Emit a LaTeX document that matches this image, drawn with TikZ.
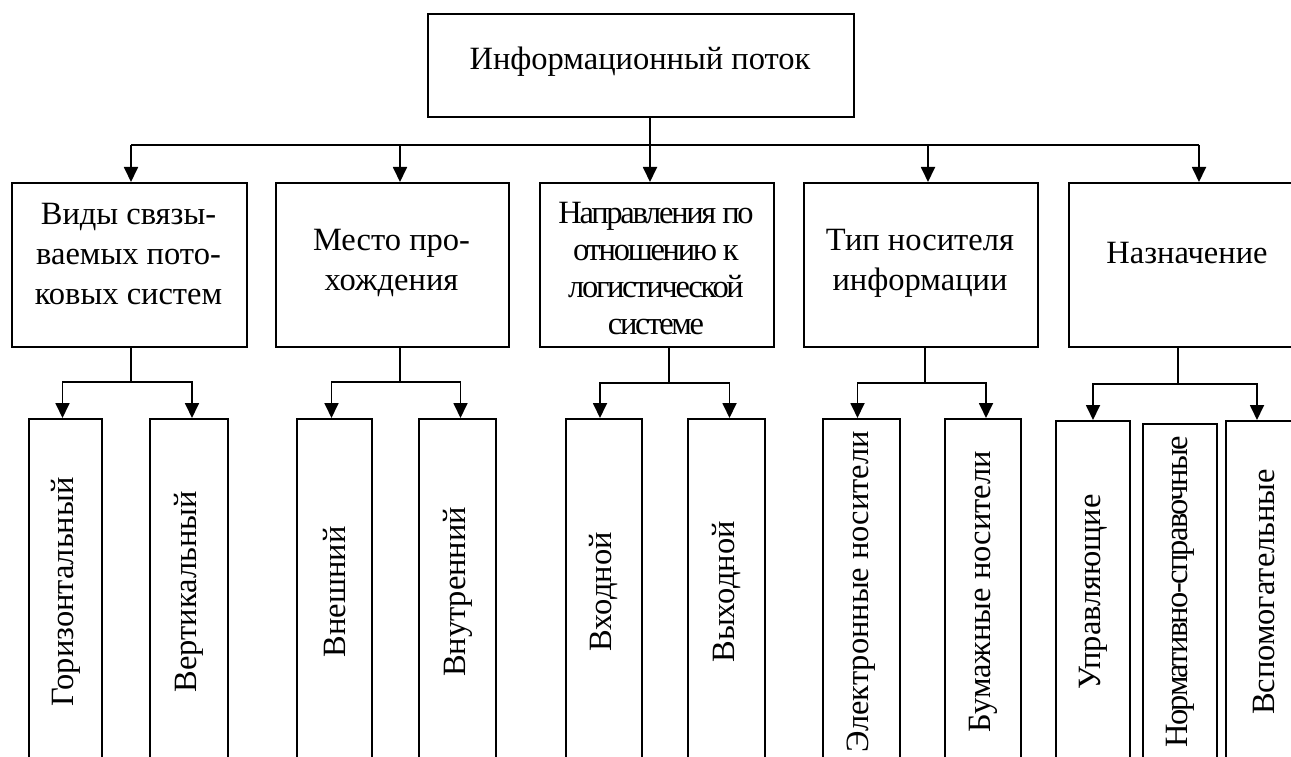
\documentclass[tikz,border=0pt]{standalone}
\usepackage{fontspec}
\setmainfont{Liberation Serif}
\newfontfamily\tightfont{Liberation Serif}[LetterSpace=-7]
\newfontfamily\slimfont{Liberation Serif}[LetterSpace=-5]
\usetikzlibrary{arrows.meta}

\tikzset{
  frame/.style={draw, line width=1.8pt, inner sep=0pt},
  caption/.style={font=\fontsize{32.5}{40}\selectfont, align=center, inner sep=0pt},
  leaf/.style={frame, anchor=north, font=\fontsize{32.5}{40}\selectfont},
  link/.style={line width=1.8pt},
  feed/.style={link, -{Triangle[length=15pt,width=14pt]}},
}

\begin{document}
\begin{tikzpicture}[x=1pt,y=-1pt]
\useasboundingbox (0,0) rectangle (1291,757);
\clip (0,0) rectangle (1291,757);

% root of the tree
\node[frame, anchor=north west, minimum width=426pt, minimum height=103pt] (root) at (427,13) {};
\node[caption] (rootT) at (640,62) {Информационный поток};

% classification criteria
\node[frame, anchor=north west, minimum width=235pt, minimum height=164pt] (g1) at (11,182) {};
\node[frame, anchor=north west, minimum width=233pt, minimum height=164pt] (g2) at (275,182) {};
\node[frame, anchor=north west, minimum width=234pt, minimum height=164pt] (g3) at (539,182) {};
\node[frame, anchor=north west, minimum width=234pt, minimum height=164pt] (g4) at (803,182) {};
\node[frame, anchor=north west, minimum width=238pt, minimum height=164pt] (g5) at (1068,182) {};

\node[caption] (g1T) at (128.5,254) {Виды связы-\\ваемых пото-\\ковых систем};
\node[caption] (g2T) at (391.5,263) {Место про-\\хождения};
\node[caption, font={\tightfont\fontsize{32.5}{37}\selectfont}] (g3T) at (656,269)
  {Направления по\\отношению к\\логистической\\системе};
\node[caption] (g4T) at (920,263) {Тип носителя\\информации};
\node[caption] (g5T) at (1187,253) {Назначение};

% distribution bus
\coordinate (s1) at (131,145);
\coordinate (s2) at (400,145);
\coordinate (s3) at (650,145);
\coordinate (s4) at (928,145);
\coordinate (s5) at (1199,145);
\draw[link] (s1) -- (s5);
\draw[feed] (root.south -| s3) -- (s3 |- g3.north);
\foreach \i in {1,2,4,5} \draw[feed] (s\i) -- (s\i |- g\i.north);

% kinds of flows
\node[leaf, minimum width=73pt, minimum height=346pt] (h1) at (65.5,418) {\rotatebox{90}{Горизонтальный}};
\node[leaf, minimum width=78pt, minimum height=346pt] (h2) at (189,418) {\rotatebox{90}{Вертикальный}};
\node[leaf, minimum width=75pt, minimum height=346pt] (h3) at (334.5,418) {\rotatebox{90}{Внешний}};
\node[leaf, minimum width=77pt, minimum height=346pt] (h4) at (457.5,418) {\rotatebox{90}{Внутренний}};
\node[leaf, minimum width=76pt, minimum height=346pt] (h5) at (604,418) {\rotatebox{90}{Входной}};
\node[leaf, minimum width=77pt, minimum height=346pt] (h6) at (726.5,418) {\rotatebox{90}{Выходной}};
\node[leaf, minimum width=77pt, minimum height=346pt] (h7) at (861.5,418) {\rotatebox{90}{Электронные носители}};
\node[leaf, minimum width=76pt, minimum height=346pt] (h8) at (983,418) {\rotatebox{90}{Бумажные носители}};
\node[leaf, minimum width=74pt, minimum height=342pt] (h9) at (1093,420) {\rotatebox{90}{Управляющие}};
\node[leaf, minimum width=74pt, minimum height=336pt, font={\slimfont\fontsize{32.5}{40}\selectfont}] (h10) at (1180,423)
  {\rotatebox{90}{Нормативно-справочные}};
\node[leaf, minimum width=76pt, minimum height=342pt] (h11) at (1264,420) {\rotatebox{90}{Вспомогательные}};

% branches to the kinds
\coordinate (k1) at (131,382);
\coordinate (k2) at (400,382);
\coordinate (k3) at (669,383);
\coordinate (k4) at (925,383);
\coordinate (k5) at (1178,384);
\draw[link] (g1.south -| k1) -- (k1);
\draw[link] (g2.south -| k2) -- (k2);
\draw[link] (g3.south -| k3) -- (k3);
\draw[link] (g4.south -| k4) -- (k4);
\draw[link] (g5.south -| k5) -- (k5);
\draw[feed] (k1) -| ([xshift=-3pt]h1.north);
\draw[feed] (k1) -| ([xshift=3pt]h2.north);
\draw[feed] (k2) -| ([xshift=-3pt]h3.north);
\draw[feed] (k2) -| ([xshift=3pt]h4.north);
\draw[feed] (k3) -| ([xshift=-4pt]h5.north);
\draw[feed] (k3) -| ([xshift=3pt]h6.north);
\draw[feed] (k4) -| ([xshift=-4pt]h7.north);
\draw[feed] (k4) -| ([xshift=3pt]h8.north);
\draw[feed] (k5) -| (h9.north);
\draw[feed] (k5) -| ([xshift=-7pt]h11.north);
\end{tikzpicture}
\end{document}
